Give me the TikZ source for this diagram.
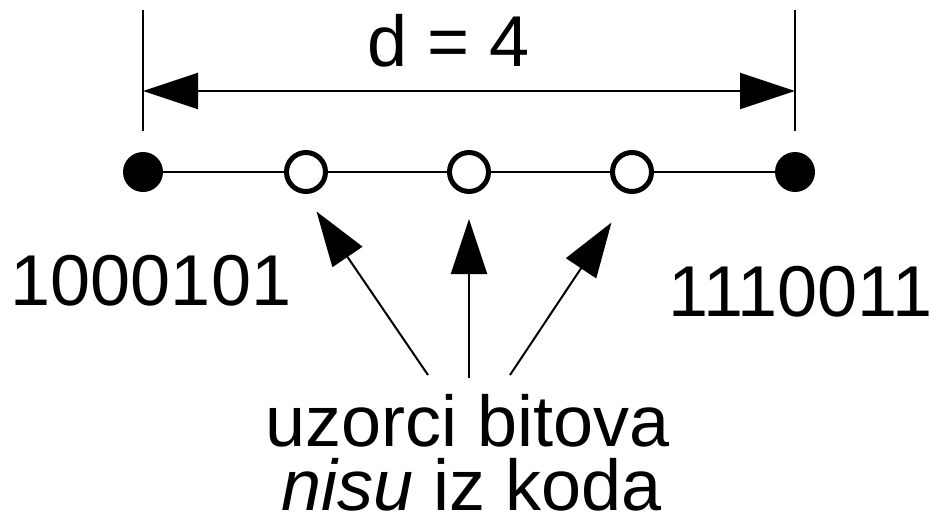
\documentclass[tikz,border=0pt]{standalone}
\usepackage{fontspec}
\setmainfont{Liberation Sans}
\usetikzlibrary{arrows.meta}

\tikzset{
    bigtext/.style={inner sep=0pt, font=\fontsize{72}{65}\selectfont},
    fulldot/.style={circle, fill=black, inner sep=0pt, minimum size=40pt},
    emptydot/.style={circle, draw, fill=white, line width=5pt, inner sep=0pt, minimum size=39pt},
    bigtip/.style={-{Triangle[length=55pt, width=36pt]}}
}

\begin{document}
\begin{tikzpicture}[x=1pt,y=1pt,yscale=-1,xscale=1]
    \useasboundingbox (0,0) rectangle (941,514);

    %Straight Lines: ticks
    \draw [line width=2pt] (143,10) -- (143,131) ;
    \draw [line width=2pt] (795,10) -- (795,131) ;
    \coordinate (dimL) at (143,91);
    \coordinate (dimR) at (795,91);
    %Straight Lines: dimension
    \draw [line width=2pt, {Triangle[length=55pt, width=36pt]}-{Triangle[length=55pt, width=36pt]}] (dimL) -- (dimR) ;

    %Shape: Circle
    \node [fulldot] (w1) at (143,172) {};
    \node [emptydot] (w2) at (306,172) {};
    \node [emptydot] (w3) at (469,172) {};
    \node [emptydot] (w4) at (632,172) {};
    \node [fulldot] (w5) at (795,172) {};
    %Straight Lines
    \draw [line width=2pt] (w1) -- (w2) ;
    \draw [line width=2pt] (w2) -- (w3) ;
    \draw [line width=2pt] (w3) -- (w4) ;
    \draw [line width=2pt] (w4) -- (w5) ;

    %Straight Lines: arrows
    \coordinate (tailA) at (428,375);
    \coordinate (tailB) at (469,378);
    \coordinate (tailC) at (510,375);
    \coordinate (tipA) at (316.5,211.5);
    \coordinate (tipB) at (469,219);
    \coordinate (tipC) at (611.5,222.5);
    \draw [line width=2pt, bigtip] (tailA) -- (tipA) ;
    \draw [line width=2pt, bigtip] (tailB) -- (tipB) ;
    \draw [line width=2pt, bigtip] (tailC) -- (tipC) ;

    % Text Node
    \node [bigtext, anchor=base] (dist) at (449,66) {d = 4};
    % Text Node
    \node [bigtext, anchor=base] (wordL) at (151,305) {1000101};
    % Text Node
    \node [bigtext, anchor=base] (wordR) at (800.5,316) {1110011};
    % Text Node
    \node [bigtext, anchor=base] (samples) at (468,446) {uzorci bitova};
    % Text Node
    \node [bigtext, anchor=base] (notcode) at (472,510) {\textit{nisu} iz koda};

\end{tikzpicture}
\end{document}
